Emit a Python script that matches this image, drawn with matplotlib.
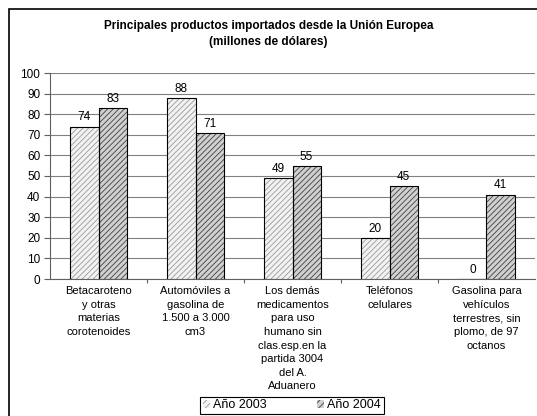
import numpy as np
import matplotlib
matplotlib.use("Agg")
import matplotlib.pyplot as plt
from matplotlib.patches import Rectangle, Patch

plt.rcParams['font.family'] = ['Liberation Sans', 'DejaVu Sans']
plt.rcParams['hatch.linewidth'] = 0.6

categories = [
    "Betacaroteno\ny otras\nmaterias\ncorotenoides",
    "Automóviles a\ngasolina de\n1.500 a 3.000\ncm3",
    "Los demás\nmedicamentos\npara uso\nhumano sin\nclas.esp.en la\npartida 3004\ndel A.\nAduanero",
    "Teléfonos\ncelulares",
    "Gasolina para\nvehículos\nterrestres, sin\nplomo, de 97\noctanos",
]
anio_2003 = [74, 88, 49, 20, 0]
anio_2004 = [83, 71, 55, 45, 41]
series_labels = ["Año 2003", "Año 2004"]

fig = plt.figure(figsize=(5.37, 4.16), dpi=100)
ax = fig.add_axes([50 / 537, 137 / 416, 485 / 537, 206 / 416])

x = np.arange(len(categories))
w = 0.29
styles = [
    dict(facecolor='#f2f2f2', hatchcolor='#9a9a9a'),
    dict(facecolor='#d0d0d0', hatchcolor='#404040'),
]
for i, vals in enumerate([anio_2003, anio_2004]):
    pos = x + (i - 0.5) * w
    ax.bar(pos, vals, w, color=styles[i]['facecolor'], edgecolor=styles[i]['hatchcolor'],
           hatch='//////', linewidth=0, zorder=3)
    ax.bar(pos, vals, w, fill=False, edgecolor='black', linewidth=0.8, zorder=4)
    for p, v in zip(pos, vals):
        ax.text(p, v + 1.5, str(v), ha='center', va='bottom', fontsize=8.5, zorder=5)

ax.set_ylim(0, 100)
ax.set_xlim(-0.5, len(categories) - 0.5)
ax.set_yticks(range(0, 101, 10))
ax.yaxis.grid(True, color='#808080', linewidth=0.8, zorder=0)
ax.tick_params(axis='y', labelsize=8.5, length=4, color='#606060', pad=3)
ax.set_xticks(np.arange(len(categories) - 1) + 0.5)
ax.set_xticklabels([])
ax.tick_params(axis='x', length=3, color='#606060')
for s in ['top', 'right']:
    ax.spines[s].set_visible(False)
ax.spines['left'].set_color('#606060')
ax.spines['bottom'].set_color('#606060')

for xi, lab in zip(x, categories):
    ax.text(xi, -3.5, lab, ha='center', va='top', fontsize=8, linespacing=1.45,
            transform=ax.transData, clip_on=False)

fig.text(0.5, 1 - 34 / 416, "Principales productos importados desde la Unión Europea\n(millones de dólares)",
         ha='center', va='center', fontsize=8.5, fontweight='bold', linespacing=1.4)

handles = [Patch(facecolor=styles[i]['facecolor'], edgecolor=styles[i]['hatchcolor'], hatch='/////',
                 linewidth=0) for i in range(2)]
leg = fig.legend(handles, series_labels, ncol=2, loc='upper left',
                 bbox_to_anchor=(200 / 537, 1 - 397 / 416), fontsize=9,
                 fancybox=False, edgecolor='black', handlelength=0.6, handleheight=0.6,
                 columnspacing=4.0, handletextpad=0.25, borderpad=0.2, borderaxespad=0,
                 framealpha=1)
leg.get_frame().set_linewidth(0.8)

fig.patches.append(Rectangle((9 / 537, -0.02), 1.1, 1 - 9 / 416 + 0.02, transform=fig.transFigure,
                             fill=False, edgecolor='black', linewidth=1.2))

fig.savefig("out.png", dpi=100)
